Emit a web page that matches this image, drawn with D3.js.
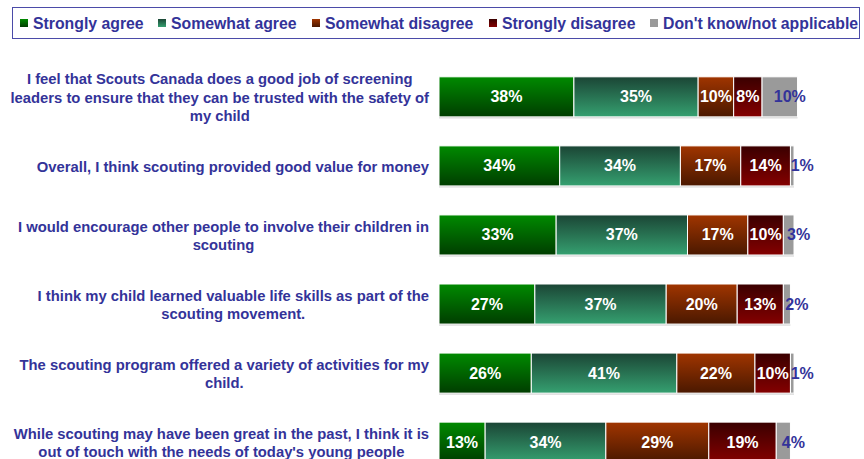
<!DOCTYPE html>
<html>
<head>
<meta charset="utf-8">
<script src="https://cdn.jsdelivr.net/npm/d3@7"></script>
<style>
  html, body { margin: 0; padding: 0; background: #fff; }
  svg { display: block; font-family: "Liberation Sans", Arial, sans-serif; }
</style>
</head>
<body>
<svg id="chart" width="864" height="459"></svg>
<script>
// Survey statements (top to bottom), each split into its display lines
const statements = [
  ["I feel that Scouts Canada does a good job of screening", "leaders to ensure that they can be trusted with the safety of", "my child"],
  ["Overall, I think scouting provided good value for money"],
  ["I would encourage other people to involve their children in", "scouting"],
  ["I think my child learned valuable life skills as part of the", "scouting movement."],
  ["The scouting program offered a variety of activities for my", "child."],
  ["While scouting may have been great in the past, I think it is", "out of touch with the needs of today's young people"]
];

const responses = ["Strongly agree", "Somewhat agree", "Somewhat disagree", "Strongly disagree", "Don't know/not applicable"];

// Percentages per response, in statement order
const stronglyAgree    = [38, 34, 33, 27, 26, 13];
const somewhatAgree    = [35, 34, 37, 37, 41, 34];
const somewhatDisagree = [10, 17, 17, 20, 22, 29];
const stronglyDisagree = [8, 14, 10, 13, 10, 19];
const dontKnow         = [10, 1, 3, 2, 1, 4];

const seriesValues = [stronglyAgree, somewhatAgree, somewhatDisagree, stronglyDisagree, dontKnow];

// Vertical gradient stops (top, bottom) per response
const fills = [
  ["#008a00", "#003d00"],
  ["#1b4535", "#35a070"],
  ["#a03500", "#4a1800"],
  ["#3a0000", "#840000"],
  ["#9a9a9a", "#9a9a9a"]
];
const textBlue = "#333399";

const svg = d3.select("#chart");
const defs = svg.append("defs");
fills.forEach((f, i) => {
  const g = defs.append("linearGradient").attr("id", "grad" + i)
    .attr("x1", 0).attr("y1", 0).attr("x2", 0).attr("y2", 1);
  g.append("stop").attr("offset", "0%").attr("stop-color", f[0]);
  g.append("stop").attr("offset", "100%").attr("stop-color", f[1]);
});

// Stack the data
const rows = statements.map((s, i) => {
  const r = { idx: i };
  responses.forEach((k, j) => r[k] = seriesValues[j][i]);
  return r;
});
const stacked = d3.stack().keys(responses)(rows);

const x = d3.scaleLinear().domain([0, 100]).range([439, 794]);
const y = d3.scaleBand().domain(d3.range(statements.length)).range([63, 476]).paddingInner(0.42).paddingOuter(0.2);

// Legend
const legend = svg.append("g");
legend.append("rect").attr("x", 12.5).attr("y", 7.5).attr("width", 847).attr("height", 31)
  .attr("fill", "#fff").attr("stroke", "#4b4ba8").attr("stroke-width", 1);
const legendX = [20, 158, 312, 489, 650];
responses.forEach((name, i) => {
  const g = legend.append("g").attr("transform", `translate(${legendX[i]},0)`);
  g.append("rect").attr("x", 0).attr("y", 19).attr("width", 8).attr("height", 8)
    .attr("fill", `url(#grad${i})`);
  g.append("text").attr("x", 13).attr("y", 29).text(name)
    .attr("fill", textBlue).attr("font-weight", "bold").attr("font-size", 15.8);
});

// Bars
const layers = svg.append("g").selectAll("g").data(stacked).join("g")
  .attr("fill", (d, i) => `url(#grad${i})`);

layers.selectAll("rect").data(d => d).join("rect")
  .attr("x", d => x(d[0]))
  .attr("y", d => y(d.data.idx))
  .attr("width", d => x(d[1]) - x(d[0]))
  .attr("height", y.bandwidth())
  .attr("stroke", "#fff").attr("stroke-width", 1);

// Faint shadow below each bar
svg.append("g").selectAll("line").data(rows).join("line")
  .attr("x1", x(0)).attr("x2", d => x(d3.sum(seriesValues, s => s[d.idx])))
  .attr("y1", d => y(d.idx) + y.bandwidth() + 1)
  .attr("y2", d => y(d.idx) + y.bandwidth() + 1)
  .attr("stroke", "#d0d0d0").attr("stroke-width", 1);

// Value labels
stacked.forEach((layer, i) => {
  const last = i === responses.length - 1;
  svg.append("g").selectAll("text").data(layer).join("text")
    .attr("x", d => (x(d[0]) + x(d[1])) / 2 + (last ? 10 : 0))
    .attr("y", d => y(d.data.idx) + y.bandwidth() / 2 + 5.5)
    .attr("text-anchor", "middle")
    .attr("font-weight", "bold").attr("font-size", 16)
    .attr("fill", last ? textBlue : "#fff")
    .text(d => (d[1] - d[0]) + "%");
});

// Category labels: lines centred within a block right-aligned to the bars
const labelRight = 429;
const catG = svg.append("g");
statements.forEach((lines, i) => {
  const g = catG.append("g");
  const lh = 18.5;
  const cy = y(i) + y.bandwidth() / 2 + 1;
  const top = cy - (lines.length - 1) * lh / 2;
  const texts = lines.map((ln, k) => g.append("text")
    .attr("y", top + k * lh + 5)
    .attr("font-weight", "bold").attr("font-size", 14.8)
    .attr("fill", textBlue).attr("text-anchor", "middle")
    .text(ln));
  const maxW = d3.max(texts, t => t.node().getComputedTextLength());
  texts.forEach(t => t.attr("x", labelRight - maxW / 2));
});
</script>
</body>
</html>
